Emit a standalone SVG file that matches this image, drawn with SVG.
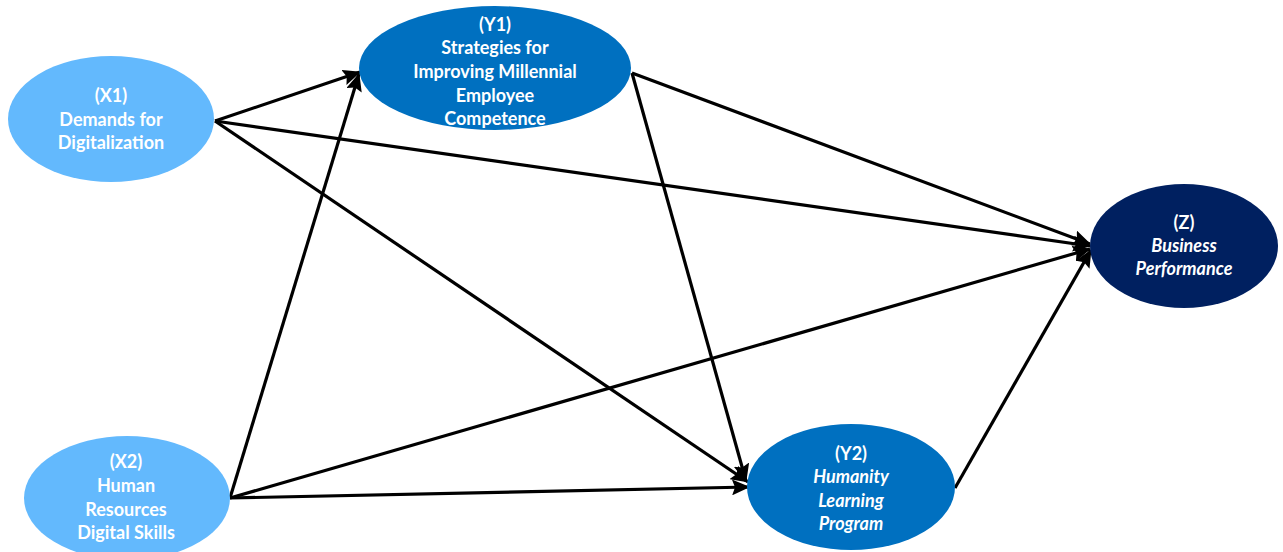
<svg xmlns="http://www.w3.org/2000/svg" width="1283" height="552" viewBox="0 0 1283 552">
  <style>
    .lbl { font-family: Lato, "Liberation Sans", sans-serif; font-weight: bold; font-size: 18px; fill: #ffffff; text-anchor: middle; }
    .it { font-style: italic; }
    .light { fill: #63B9FD; }
    .mid { fill: #0070C0; }
    .dark { fill: #002060; }
    .edge { stroke: #000000; stroke-width: 3.2; fill: none; marker-end: url(#arrow); }
  </style>
  <defs>
    <marker id="arrow" viewBox="0 0 18 16" refX="17" refY="8" markerWidth="18" markerHeight="16" markerUnits="userSpaceOnUse" orient="auto">
      <path d="M0,0 L18,8 L0,16 L3,8 Z" fill="#000000"/>
    </marker>
  </defs>
  <rect width="1283" height="552" fill="#ffffff"/>

  <!-- connectors -->
  <g id="connectors">
    <line class="edge" x1="215" y1="121" x2="360" y2="72"/>
    <line class="edge" x1="215" y1="121" x2="1090" y2="246"/>
    <line class="edge" x1="215" y1="121" x2="748" y2="482"/>
    <line class="edge" x1="230" y1="498" x2="359" y2="74"/>
    <line class="edge" x1="230" y1="498" x2="1090" y2="249"/>
    <line class="edge" x1="230" y1="498" x2="749" y2="487"/>
    <line class="edge" x1="632" y1="73" x2="1090" y2="244"/>
    <line class="edge" x1="632" y1="73" x2="746" y2="481"/>
    <line class="edge" x1="955" y1="488" x2="1091" y2="250"/>
  </g>

  <!-- nodes -->
  <g id="X1">
    <ellipse class="light" cx="111" cy="119" rx="103" ry="63"/>
    <text class="lbl" x="111" y="102">(X1)</text>
    <text class="lbl" x="111" y="126">Demands for</text>
    <text class="lbl" x="111" y="149">Digitalization</text>
  </g>
  <g id="X2">
    <ellipse class="light" cx="127" cy="498" rx="103" ry="62"/>
    <text class="lbl" x="126" y="468">(X2)</text>
    <text class="lbl" x="126" y="492">Human</text>
    <text class="lbl" x="126" y="516">Resources</text>
    <text class="lbl" x="126" y="539">Digital Skills</text>
  </g>
  <g id="Y1">
    <ellipse class="mid" cx="495" cy="68" rx="136" ry="62"/>
    <text class="lbl" x="495" y="31">(Y1)</text>
    <text class="lbl" x="495" y="54">Strategies for</text>
    <text class="lbl" x="495" y="78">Improving Millennial</text>
    <text class="lbl" x="495" y="102">Employee</text>
    <text class="lbl" x="495" y="125">Competence</text>
  </g>
  <g id="Y2">
    <ellipse class="mid" cx="851" cy="487" rx="104" ry="63"/>
    <text class="lbl" x="851" y="460">(Y2)</text>
    <text class="lbl it" x="851" y="483">Humanity</text>
    <text class="lbl it" x="851" y="507">Learning</text>
    <text class="lbl it" x="851" y="530">Program</text>
  </g>
  <g id="Z">
    <ellipse class="dark" cx="1184" cy="246" rx="94" ry="62"/>
    <text class="lbl" x="1184" y="229">(Z)</text>
    <text class="lbl it" x="1184" y="252">Business</text>
    <text class="lbl it" x="1184" y="275">Performance</text>
  </g>
</svg>
